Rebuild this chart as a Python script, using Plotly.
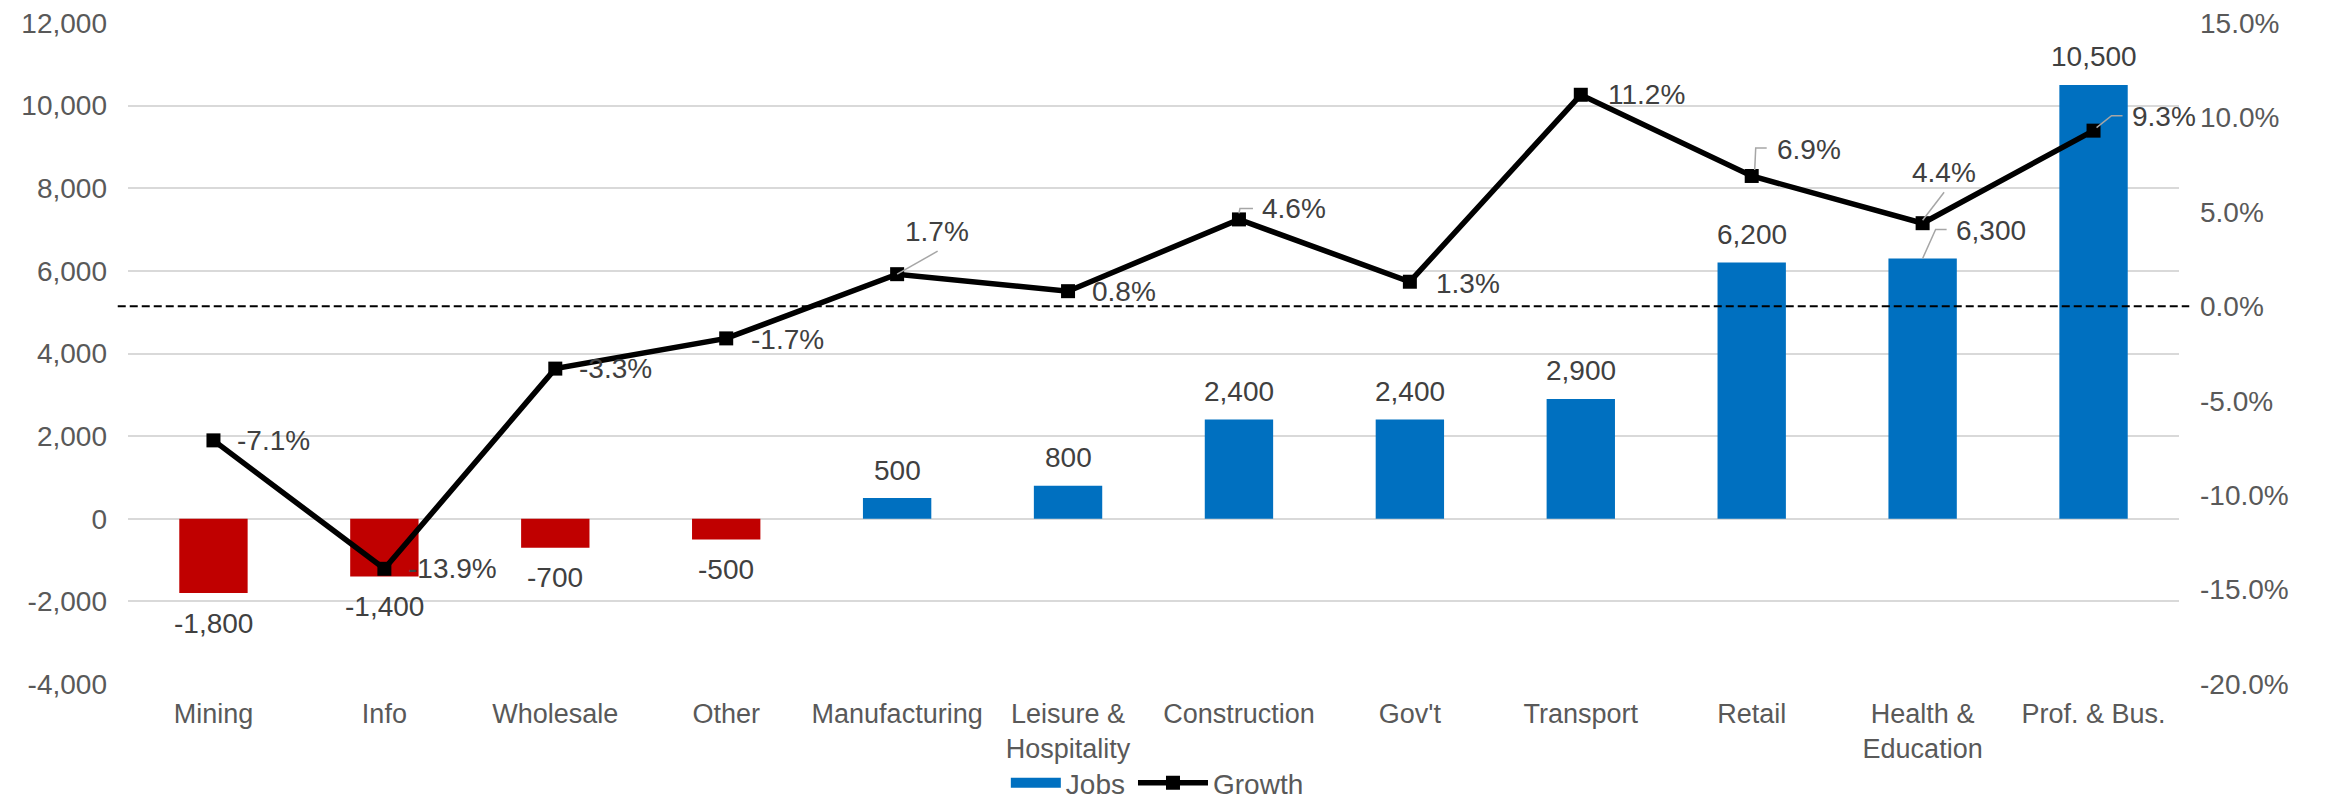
import plotly.graph_objects as go

# ---- data ----
categories = ["Mining", "Info", "Wholesale", "Other", "Manufacturing",
              "Leisure & Hospitality", "Construction", "Gov't", "Transport",
              "Retail", "Health & Education", "Prof. & Bus."]
category_labels = ["Mining", "Info", "Wholesale", "Other", "Manufacturing",
                   "Leisure &<br>Hospitality", "Construction", "Gov't", "Transport",
                   "Retail", "Health &<br>Education", "Prof. & Bus."]
jobs = [-1800, -1400, -700, -500, 500, 800, 2400, 2400, 2900, 6200, 6300, 10500]
growth = [-7.1, -13.9, -3.3, -1.7, 1.7, 0.8, 4.6, 1.3, 11.2, 6.9, 4.4, 9.3]
jobs_ticks = [-4000, -2000, 0, 2000, 4000, 6000, 8000, 10000, 12000]
growth_ticks = [-20, -15, -10, -5, 0, 5, 10, 15]

# ---- styles ----
BLUE = "#0070C0"
RED = "#C00000"
AXIS_TEXT = "#595959"
LABEL_TEXT = "#404040"
GRID = "#D9D9D9"
LEADER = "#A6A6A6"
FONT = "Arial, Liberation Sans, sans-serif"

# label placement (pixel offsets, screen y grows downward)
# growth labels: ("left", dx, dy) -> text starts dx px right of the marker
#                ("center", dx, dy, leader path) -> text centred at offset with a leader line
growth_label_pos = [
    ("left", 22, 0, None),
    ("left", 22, 0, None),
    ("left", 22, 0, None),
    ("left", 23, 1, None),
    ("center", 40, -43, [(0, 0), (40.5, -23)]),
    ("left", 22, 0, None),
    ("center", 55, -11, [(0, -6), (1, -11), (14, -11)]),
    ("left", 24, 2, None),
    ("left", 25, 0, None),
    ("center", 57, -26, [(3, -6), (4, -28), (15, -28)]),
    ("center", 21, -51, [(0, -3), (21.5, -31)]),
    ("center", 70, -14, [(3, -3), (18, -15), (29, -15)]),
]
# job labels: dy above/below bar end, or custom offset with leader
job_label_custom = {10: (68, -28, [(0, 0), (13, -29), (24, -29)])}

fig = go.Figure()

bar_colors = [RED if v < 0 else BLUE for v in jobs]
fig.add_trace(go.Bar(
    x=categories, y=jobs, width=0.4, name="Jobs",
    marker=dict(color=bar_colors, line=dict(width=0)),
    showlegend=False, yaxis="y",
))
# legend entry for the bar series (wide blue swatch)
fig.add_trace(go.Scatter(
    x=[None], y=[None], name="Jobs", mode="lines",
    line=dict(color=BLUE, width=15), showlegend=True, legend="legend",
))
fig.add_trace(go.Scatter(
    x=categories, y=growth, name="Growth", yaxis="y2",
    mode="lines+markers",
    line=dict(color="black", width=5.5),
    marker=dict(symbol="square", size=14, color="black"),
    legend="legend2",
))

annotations = []
shapes = []

# bar value labels
for i, (c, v) in enumerate(zip(categories, jobs)):
    txt = f"{v:,}"
    if i in job_label_custom:
        dx, dy, path = job_label_custom[i]
        annotations.append(dict(x=c, y=v, xref="x", yref="y", text=txt, showarrow=False,
                                xanchor="center", yanchor="middle", xshift=dx, yshift=-dy,
                                font=dict(size=28, color=LABEL_TEXT, family=FONT)))
        d = "M " + " L ".join(f"{px},{-py}" for px, py in path)
        shapes.append(dict(type="path", xref="x", yref="y", xsizemode="pixel", ysizemode="pixel",
                           xanchor=c, yanchor=v, path=d, layer="above",
                           line=dict(color=LEADER, width=1.5)))
    else:
        shift = 28 if v >= 0 else -30
        annotations.append(dict(x=c, y=v, xref="x", yref="y", text=txt, showarrow=False,
                                xanchor="center", yanchor="middle", yshift=shift,
                                font=dict(size=28, color=LABEL_TEXT, family=FONT)))

# growth labels
for i, (c, g) in enumerate(zip(categories, growth)):
    mode, dx, dy, path = growth_label_pos[i]
    txt = f"{g:.1f}%"
    annotations.append(dict(x=c, y=g, xref="x", yref="y2", text=txt, showarrow=False,
                            xanchor="left" if mode == "left" else "center", yanchor="middle",
                            xshift=dx, yshift=-dy,
                            font=dict(size=28, color=LABEL_TEXT, family=FONT)))
    if path:
        d = "M " + " L ".join(f"{px},{-py}" for px, py in path)
        shapes.append(dict(type="path", xref="x", yref="y2", xsizemode="pixel", ysizemode="pixel",
                           xanchor=c, yanchor=g, path=d, layer="above",
                           line=dict(color=LEADER, width=1.5)))

# dashed 0% reference line
shapes.append(dict(type="line", xref="paper", yref="y2", x0=-0.005, x1=1.005, y0=0, y1=0,
                   layer="above", line=dict(color="black", width=2, dash="8px,4px")))

legend_style = dict(orientation="h", y=-0.15, yanchor="middle", xanchor="left",
                    font=dict(size=28, color=AXIS_TEXT), bgcolor="rgba(0,0,0,0)")

fig.update_layout(
    width=2326, height=799,
    margin=dict(l=128, r=147, t=23, b=115, autoexpand=False),
    paper_bgcolor="white", plot_bgcolor="white",
    barmode="overlay",
    font=dict(family=FONT, color=AXIS_TEXT),
    xaxis=dict(type="category", categoryorder="array", categoryarray=categories,
               range=[-0.5, len(categories) - 0.5], autorange=False,
               tickvals=categories, ticktext=category_labels,
               showgrid=False, zeroline=False, showline=False, ticks="",
               tickfont=dict(size=27, color=AXIS_TEXT), ticklabelstandoff=11),
    yaxis=dict(range=[-4000, 12000], tickvals=jobs_ticks,
               ticktext=[f"{v:,}" for v in jobs_ticks],
               showgrid=True, gridcolor=GRID, gridwidth=1.5, zeroline=False,
               showline=False, ticks="", tickfont=dict(size=28, color=AXIS_TEXT),
               ticklabelstandoff=20),
    yaxis2=dict(range=[-20, 15], overlaying="y", side="right", tickvals=growth_ticks,
                ticktext=[f"{v:.1f}%" for v in growth_ticks],
                showgrid=False, zeroline=False, showline=False, ticks="",
                tickfont=dict(size=28, color=AXIS_TEXT), ticklabelstandoff=20),
    legend=dict(x=0.428, itemwidth=50, **legend_style),
    legend2=dict(x=0.490, itemwidth=70, **legend_style),
    annotations=annotations,
    shapes=shapes,
)

fig.write_html("out.html")
